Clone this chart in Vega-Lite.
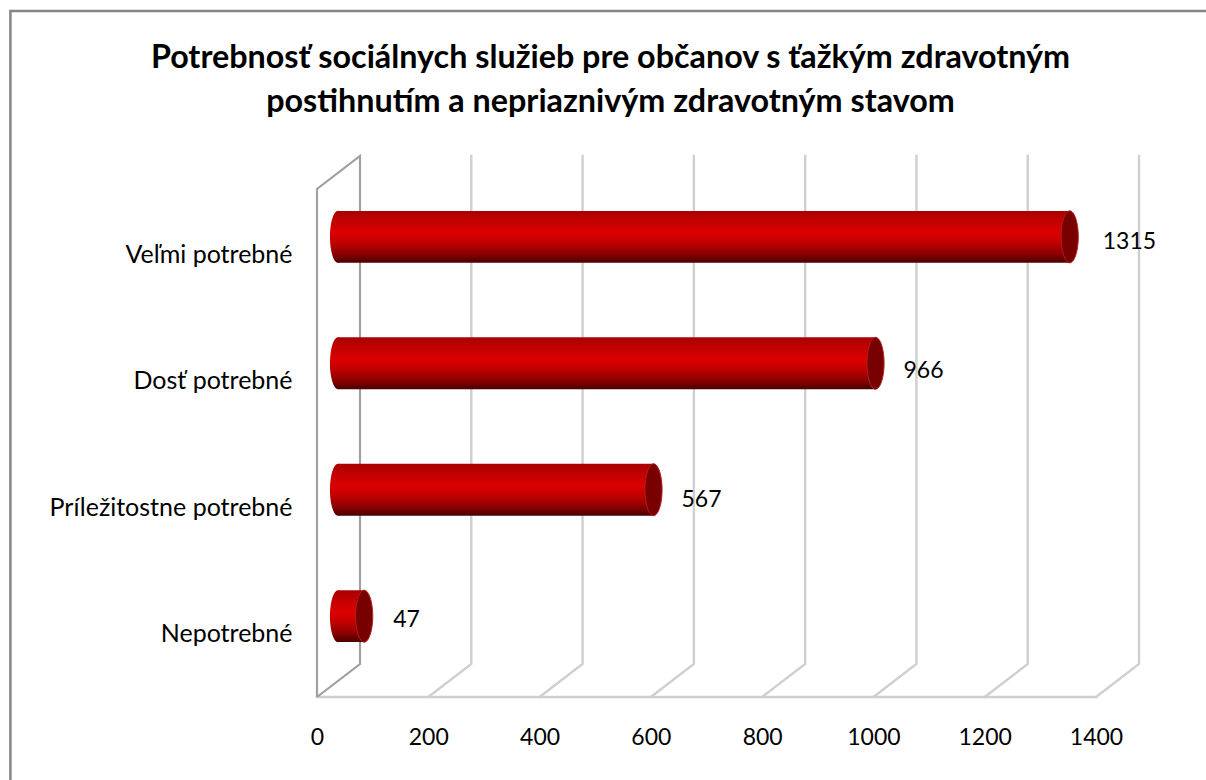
{"$schema":"https://vega.github.io/schema/vega-lite/v6.json","width":779,"height":541,"autosize":"none","padding":{"left":317,"top":156,"right":110,"bottom":83},"background":"white","config":{"view":{"stroke":null},"font":"Lato"},
"title":{"text":["Potrebnosť sociálnych služieb pre občanov s ťažkým zdravotným","postihnutím a nepriaznivým zdravotným stavom"],"font":"Lato","fontSize":32.3,"fontWeight":"bold","color":"#000000","anchor":"middle","dx":-96,"dy":112,"offset":0,"lineHeight":44},
"datasets":{"bars":[{"cat":"Veľmi potrebné","v":1315},{"cat":"Dosť potrebné","v":966},{"cat":"Príležitostne potrebné","v":567},{"cat":"Nepotrebné","v":47}],
"lines":[
{"s":"frame","i":0,"gx":-551,"gy":-300},{"s":"frame","i":1,"gx":-551,"gy":686},{"s":"frame","i":2,"gx":2000,"gy":686},
{"s":"wall","i":0,"gx":0,"gy":0},{"s":"wall","i":1,"gx":0,"gy":508},{"s":"wall","i":2,"gx":77.3,"gy":541},{"s":"wall","i":3,"gx":77.3,"gy":33},{"s":"wall","i":4,"gx":0,"gy":0},
{"s":"floor","i":0,"gx":0,"gy":0},{"s":"floor","i":1,"gx":1400,"gy":0},
{"s":"g200","i":0,"gx":200,"gy":0},{"s":"g200","i":1,"gx":277.3,"gy":33},{"s":"g200","i":2,"gx":277.3,"gy":541},
{"s":"g400","i":0,"gx":400,"gy":0},{"s":"g400","i":1,"gx":477.3,"gy":33},{"s":"g400","i":2,"gx":477.3,"gy":541},
{"s":"g600","i":0,"gx":600,"gy":0},{"s":"g600","i":1,"gx":677.3,"gy":33},{"s":"g600","i":2,"gx":677.3,"gy":541},
{"s":"g800","i":0,"gx":800,"gy":0},{"s":"g800","i":1,"gx":877.3,"gy":33},{"s":"g800","i":2,"gx":877.3,"gy":541},
{"s":"g1000","i":0,"gx":1000,"gy":0},{"s":"g1000","i":1,"gx":1077.3,"gy":33},{"s":"g1000","i":2,"gx":1077.3,"gy":541},
{"s":"g1200","i":0,"gx":1200,"gy":0},{"s":"g1200","i":1,"gx":1277.3,"gy":33},{"s":"g1200","i":2,"gx":1277.3,"gy":541},
{"s":"g1400","i":0,"gx":1400,"gy":0},{"s":"g1400","i":1,"gx":1477.3,"gy":33},{"s":"g1400","i":2,"gx":1477.3,"gy":541}
]},
"encoding":{},
"resolve":{"scale":{"y":"independent"},"axis":{"y":"independent"}},
"layer":[
{"data":{"name":"lines"},"layer":[
{"transform":[{"filter":"datum.s!='frame'&&datum.s!='wall'"}],"mark":{"type":"line","color":"#cfcfcf","strokeWidth":2.4,"clip":false,"strokeCap":"square"},"encoding":{"detail":{"field":"s"},"order":{"field":"i","type":"quantitative"}}},
{"transform":[{"filter":"datum.s=='wall'"}],"mark":{"type":"line","color":"#a0a0a0","strokeWidth":2.2,"clip":false},"encoding":{"detail":{"field":"s"},"order":{"field":"i","type":"quantitative"}}},
{"transform":[{"filter":"datum.s=='frame'"}],"mark":{"type":"line","color":"#868686","strokeWidth":2.5,"clip":false},"encoding":{"detail":{"field":"s"},"order":{"field":"i","type":"quantitative"}}}
],
"encoding":{
"x":{"field":"gx","type":"quantitative","scale":{"domain":[0,1400],"nice":false},"axis":{"values":[0,200,400,600,800,1000,1200,1400],"domain":false,"ticks":false,"grid":false,"title":null,"labelFontSize":23,"labelFont":"Lato","labelColor":"#000000","labelPadding":29,"format":"d","labelFlush":false}},
"y":{"field":"gy","type":"quantitative","scale":{"domain":[0,541],"nice":false},"axis":null}}},
{"data":{"name":"bars"},
"encoding":{
"y":{"field":"cat","type":"nominal","sort":null,"scale":{"paddingInner":0.5895,"paddingOuter":0.434},"axis":{"domain":false,"ticks":false,"grid":false,"title":null,"labelFontSize":25,"labelFont":"Lato","labelColor":"#000000","labelPadding":25,"labelOffset":18,"labelLimit":400}},
"x":{"field":"v","type":"quantitative"}},
"layer":[
{"mark":{"type":"point","filled":true,"size":2704,"opacity":1,"xOffset":21,"shape":"M0,-1 C0.17,-1 0.31,-0.55 0.31,0 C0.31,0.55 0.17,1 0,1 C-0.17,1 -0.31,0.55 -0.31,0 C-0.31,-0.55 -0.17,-1 0,-1 Z","fill":{"gradient":"linear","x1":0,"y1":0,"x2":0,"y2":1,"stops":[{"offset":0,"color":"#a80000"},{"offset":0.15,"color":"#bd0000"},{"offset":0.42,"color":"#dc0000"},{"offset":0.62,"color":"#c00000"},{"offset":0.82,"color":"#8e0000"},{"offset":1,"color":"#4a0000"}]}},"encoding":{"x":{"datum":0,"type":"quantitative"}}},
{"mark":{"type":"bar","xOffset":21,"x2Offset":21,"color":{"gradient":"linear","x1":0,"y1":0,"x2":0,"y2":1,"stops":[{"offset":0,"color":"#a80000"},{"offset":0.15,"color":"#bd0000"},{"offset":0.42,"color":"#dc0000"},{"offset":0.62,"color":"#c00000"},{"offset":0.82,"color":"#8e0000"},{"offset":1,"color":"#4a0000"}]}}},
{"mark":{"type":"point","filled":true,"size":2704,"opacity":1,"xOffset":21,"shape":"M0,-1 C0.18,-1 0.33,-0.55 0.33,0 C0.33,0.55 0.18,1 0,1 C-0.18,1 -0.33,0.55 -0.33,0 C-0.33,-0.55 -0.18,-1 0,-1 Z","fill":"#780000","stroke":"#b02020","strokeWidth":1}},
{"transform":[{"filter":"datum.v==1315"}],"mark":{"type":"text","align":"left","baseline":"middle","xOffset":54,"yOffset":5,"fontSize":23,"font":"Lato","color":"#000000"},"encoding":{"text":{"field":"v","type":"quantitative","format":"d"}}},
{"transform":[{"filter":"datum.v==966"}],"mark":{"type":"text","align":"left","baseline":"middle","xOffset":49,"yOffset":8,"fontSize":23,"font":"Lato","color":"#000000"},"encoding":{"text":{"field":"v","type":"quantitative","format":"d"}}},
{"transform":[{"filter":"datum.v==567"}],"mark":{"type":"text","align":"left","baseline":"middle","xOffset":49,"yOffset":10,"fontSize":23,"font":"Lato","color":"#000000"},"encoding":{"text":{"field":"v","type":"quantitative","format":"d"}}},
{"transform":[{"filter":"datum.v==47"}],"mark":{"type":"text","align":"left","baseline":"middle","xOffset":50,"yOffset":4,"fontSize":23,"font":"Lato","color":"#000000"},"encoding":{"text":{"field":"v","type":"quantitative","format":"d"}}}
]}
]}
